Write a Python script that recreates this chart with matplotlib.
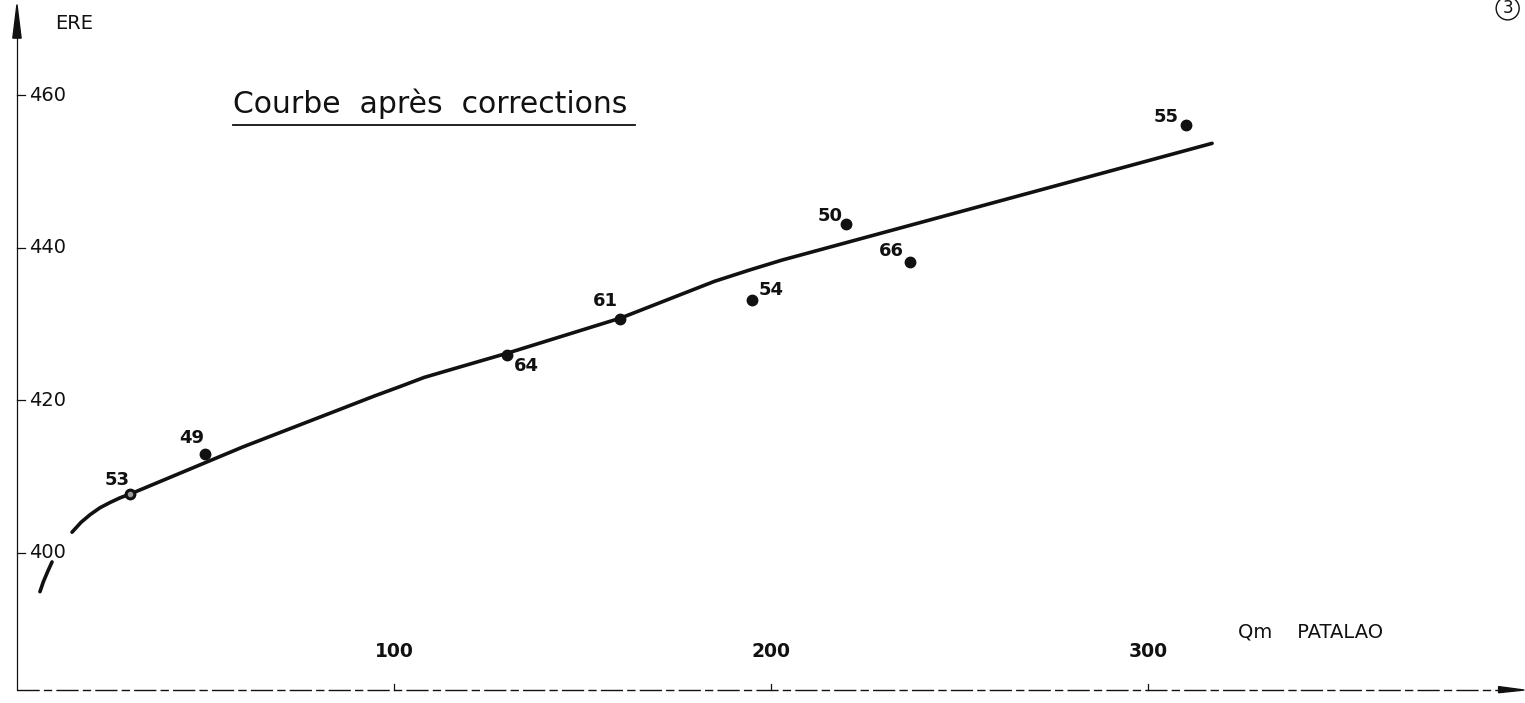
import matplotlib
matplotlib.use("Agg")
import matplotlib.pyplot as plt
from matplotlib.patches import Polygon

# Gauged points: station year, discharge at Patalao (Qm), reading at ERE
stations = ["53", "49", "64", "61", "54", "50", "66", "55"]
q_patalao = [30, 50, 130, 160, 195, 220, 237, 310]
h_ere = [407.7, 413.0, 426.0, 430.7, 433.2, 443.1, 438.1, 456.1]

# Label offsets (points) for each station number
label_dx = [-9, -10, 14, -11, 14, -12, -14, -14]
label_dy = [10, 11, -8, 13, 7, 6, 8, 6]

# Fitted rating curve, drawn in two strokes (short foot + main branch)
curve_foot_q = [6.1, 7.0, 8.2, 9.3]
curve_foot_h = [394.9, 396.2, 397.6, 398.8]
curve_q = [14.6, 17.0, 19.4, 22.0, 24.7, 27.3, 30.0, 60.0, 83.0, 95.0,
           101.6, 108.0, 114.9, 130.2, 160.2, 185.0, 194.4, 203.0, 317.0]
curve_h = [402.7, 404.0, 405.0, 405.9, 406.6, 407.2, 407.7, 413.9, 418.3, 420.6,
           421.8, 423.0, 424.0, 426.2, 430.8, 435.6, 437.1, 438.4, 453.7]

y_ticks = [400, 420, 440, 460]
x_ticks = [100, 200, 300]

font = "DejaVu Sans"
ink = "#111111"

fig = plt.figure(figsize=(15.25, 7.03), dpi=100)
ax = fig.add_axes([0, 0, 1, 1])
ax.set_xlim(-4.5, 400)
ax.set_ylim(380.3, 472.5)
ax.axis("off")

# Vertical axis with a filled arrow head
x_base = 382.0
ax.plot([0, 0], [x_base, 468.0], color=ink, lw=0.9)
ax.add_patch(Polygon([[0, 471.9], [-1.1, 467.5], [1.1, 467.5]],
                     closed=True, color=ink))

# Horizontal axis, long dashes, arrow at the right end
ax.plot([0, 394], [x_base, x_base], color=ink, lw=1.0, dashes=(16, 3, 6, 3))
ax.add_patch(Polygon([[399.8, x_base], [393.0, x_base + 0.45],
                      [393.0, x_base - 0.35]], closed=True, color=ink))

# Y ticks and labels
for v in y_ticks:
    ax.plot([0, 2.0], [v, v], color=ink, lw=0.9)
    ax.text(3.2, v, str(v), fontsize=14, family=font, color=ink,
            ha="left", va="center")
ax.text(10, 469.4, "ERE", fontsize=14, family=font, color=ink,
        ha="left", va="center")

# X ticks and labels
for v in x_ticks:
    ax.plot([v, v], [x_base, x_base + 0.8], color=ink, lw=0.9)
    ax.text(v, x_base + 5.1, str(v), fontsize=13.5, family=font, color=ink,
            ha="center", va="center", fontweight="bold")
ax.text(343, 389.6, "Qm    PATALAO", fontsize=14, family=font, color=ink,
        ha="center", va="center")

# Rating curve
ax.plot(curve_foot_q, curve_foot_h, color=ink, lw=2.6, solid_capstyle="round")
ax.plot(curve_q, curve_h, color=ink, lw=2.6, solid_capstyle="round",
        solid_joinstyle="round")

# Gauged points and their year labels
ax.plot(q_patalao, h_ere, "o", color=ink, ms=7.5, zorder=3)
ax.plot(q_patalao[0], h_ere[0], "o", color="#9a9a9a", ms=3, zorder=4)
for s, x, y, dx, dy in zip(stations, q_patalao, h_ere, label_dx, label_dy):
    ax.annotate(s, (x, y), xytext=(dx, dy), textcoords="offset points",
                fontsize=13, family=font, color=ink, ha="center", va="center",
                fontweight="bold")

# Title, underlined
ax.text(57.3, 458.9, "Courbe  après  corrections", fontsize=21.5,
        family=font, color=ink, ha="left", va="center")
ax.plot([57.3, 164.0], [456.1, 456.1], color=ink, lw=1.3)

# Sheet number, circled
ax.text(395.4, 471.4, "3", fontsize=12, family=font, color=ink,
        ha="center", va="center",
        bbox=dict(boxstyle="circle,pad=0.15", fc="none", ec=ink, lw=1.0))

fig.savefig("out.png", dpi=100, facecolor="white")
